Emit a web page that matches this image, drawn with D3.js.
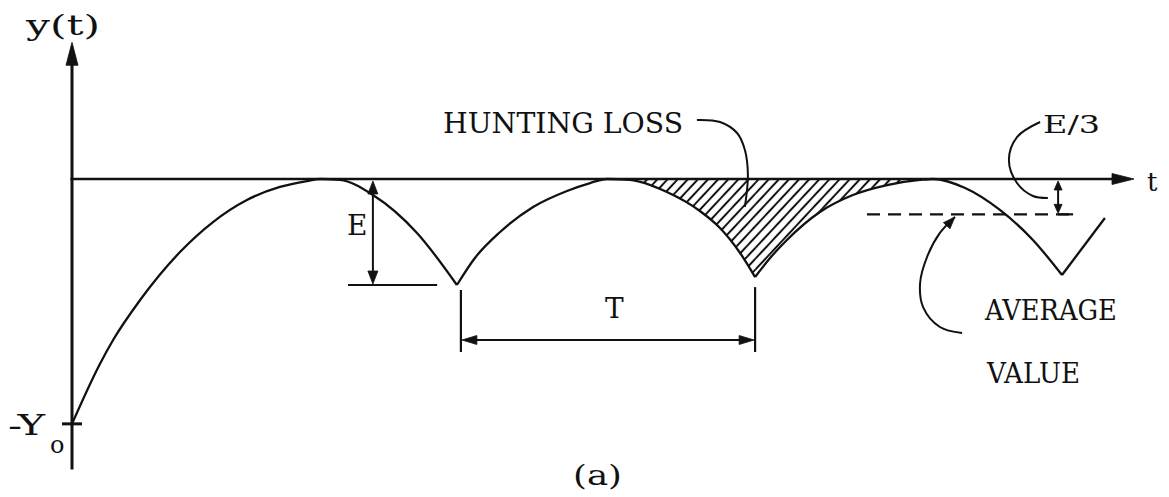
<!DOCTYPE html>
<html>
<head>
<meta charset="utf-8">
<script src="https://cdn.jsdelivr.net/npm/d3@7"></script>
<style>
  html, body { margin: 0; padding: 0; background: #fff; }
  svg { display: block; }
</style>
</head>
<body>
<svg id="chart" width="1169" height="497"></svg>
<script>
// Response y(t) in units where the ripple depth E = 1 and one period T is about 1.
// Each arch runs from cusp (or start) to cusp; values are [t, y].
const arch1 = [[0, -2.31], [0.093, -1.745], [0.137, -1.519], [0.227, -1.142], [0.36, -0.689],
               [0.47, -0.406], [0.583, -0.198], [0.693, -0.075], [0.783, -0.019], [0.827, 0],
               [0.893, -0.009], [1.003, -0.151], [1.15, -0.509], [1.283, -1.0]];
const arch2 = [[1.283, -1.0], [1.343, -0.745], [1.427, -0.5], [1.537, -0.264], [1.65, -0.113],
               [1.727, -0.038], [1.783, 0], [1.86, -0.009], [1.983, -0.123], [2.093, -0.302],
               [2.16, -0.462], [2.227, -0.698], [2.277, -0.925]];
const arch3 = [[2.277, -0.925], [2.327, -0.745], [2.383, -0.575], [2.493, -0.311], [2.603, -0.151],
               [2.717, -0.057], [2.827, -0.009], [2.87, 0], [2.977, -0.085], [3.093, -0.292],
               [3.203, -0.575], [3.3, -0.906]];
const tail = [[3.3, -0.906], [3.443, -0.368]];

const Y0 = 2.31;            // initial offset -Y0
const E = 1;                // ripple depth
const averageValue = -E / 3;
const hatchSpan = [1.86, 2.8];       // hunting-loss region between two peaks
const periodSpan = [1.283, 2.277];   // one period T, cusp to cusp
const averageSpan = [2.65, 3.337];   // extent of the dashed average line

// Leader lines for the callouts, [t, y]
const huntingLeader = [[2.083, 0.557], [2.16, 0.538], [2.217, 0.434], [2.243, 0.274], [2.253, 0.038], [2.243, -0.264]];
const thirdLeader = [[3.227, 0.538], [3.15, 0.396], [3.123, 0.179], [3.15, -0.038], [3.203, -0.160], [3.253, -0.179]];
const averageLeader = [[2.967, -1.453], [2.893, -1.396], [2.837, -1.208], [2.827, -0.981], [2.85, -0.736], [2.893, -0.509], [2.943, -0.358]];

const svg = d3.select("#chart");
const x = d3.scaleLinear().domain([0, 3.54]).range([72, 1134]);
const y = d3.scaleLinear().domain([-1, 0]).range([285, 179]);

const ink = "#111";
const font = "'DejaVu Serif', 'Liberation Serif', serif";

// hatch pattern for the hunting loss area
const defs = svg.append("defs");
const pat = defs.append("pattern")
  .attr("id", "hatch").attr("patternUnits", "userSpaceOnUse")
  .attr("width", 7.4).attr("height", 7.4)
  .attr("patternTransform", "rotate(43)");
pat.append("line").attr("x1", 3.7).attr("y1", 0).attr("x2", 3.7).attr("y2", 7.4)
  .attr("stroke", ink).attr("stroke-width", 2);
defs.append("clipPath").attr("id", "lossClip")
  .append("rect")
  .attr("x", x(hatchSpan[0])).attr("y", 0)
  .attr("width", x(hatchSpan[1]) - x(hatchSpan[0])).attr("height", 497);

function arrowHead(tip, from, len, halfW) {
  const dx = tip[0] - from[0], dy = tip[1] - from[1];
  const d = Math.hypot(dx, dy) || 1;
  const ux = dx / d, uy = dy / d;
  const bx = tip[0] - ux * len, by = tip[1] - uy * len;
  const nx = -uy * halfW, ny = ux * halfW;
  svg.append("path")
    .attr("d", `M${tip[0]},${tip[1]}L${bx + nx},${by + ny}L${bx - nx},${by - ny}Z`)
    .attr("fill", ink).attr("stroke", ink).attr("stroke-width", 0.8).attr("stroke-linejoin", "round");
}
function seg(x1, y1, x2, y2, w) {
  svg.append("line").attr("x1", x1).attr("y1", y1).attr("x2", x2).attr("y2", y2)
    .attr("stroke", ink).attr("stroke-width", w || 2).attr("stroke-linecap", "butt");
}

// hatched area between the axis and the curve
const area = d3.area().x(d => x(d[0])).y0(y(0)).y1(d => y(d[1])).curve(d3.curveMonotoneX);
const hatchG = svg.append("g").attr("clip-path", "url(#lossClip)");
[arch2, arch3].forEach(a => hatchG.append("path").attr("d", area(a)).attr("fill", "url(#hatch)"));

// axes
const tEnd = x.domain()[1];
seg(x(0), y(-2.74), x(0), y(1.29) + 18, 3);
arrowHead([x(0), y(1.29)], [x(0), y(0)], 23, 6);
seg(x(0) - 1.5, y(0), x(tEnd) - 16, y(0), 2.6);
arrowHead([x(tEnd), y(0)], [x(0), y(0)], 22, 5.5);
// -Y0 tick
seg(x(0) - 10, y(-Y0), x(0) + 10, y(-Y0), 3);

// the response curve
const line = d3.line().x(d => x(d[0])).y(d => y(d[1])).curve(d3.curveMonotoneX);
[arch1, arch2, arch3].forEach(a =>
  svg.append("path").attr("d", line(a)).attr("fill", "none")
    .attr("stroke", ink).attr("stroke-width", 2.3).attr("stroke-linejoin", "miter"));
svg.append("path").attr("d", d3.line().x(d => x(d[0])).y(d => y(d[1]))(tail))
  .attr("fill", "none").attr("stroke", ink).attr("stroke-width", 2.3);

// E dimension
const eT = 1.003;
seg(x(eT), y(0) + 10, x(eT), y(-E) - 10, 2);
arrowHead([x(eT), y(0) + 2], [x(eT), y(-E)], 13, 5);
arrowHead([x(eT), y(-E) - 1], [x(eT), y(0)], 13, 5);
seg(x(0.92), y(-E), x(1.217), y(-E), 2.2);

// T dimension
const tRow = y(-1.519);
seg(x(periodSpan[0]) + 4, y(-1.047), x(periodSpan[0]) + 4, y(-1.632), 2.2);
seg(x(periodSpan[1]), y(-1.02), x(periodSpan[1]), y(-1.632), 2.2);
seg(x(periodSpan[0]) + 14, tRow, x(periodSpan[1]) - 14, tRow, 2);
arrowHead([x(periodSpan[0]) + 5, tRow], [x(periodSpan[1]), tRow], 15, 4.5);
arrowHead([x(periodSpan[1]) - 1, tRow], [x(periodSpan[0]), tRow], 15, 4.5);

// average value (E/3 below the axis)
svg.append("line")
  .attr("x1", x(averageSpan[0])).attr("x2", x(averageSpan[1]))
  .attr("y1", y(averageValue)).attr("y2", y(averageValue))
  .attr("stroke", ink).attr("stroke-width", 2.2).attr("stroke-dasharray", "13,8");
const e3T = 3.287;
seg(x(e3T), y(0) + 8, x(e3T), y(averageValue) - 8, 2);
arrowHead([x(e3T), y(0) + 2], [x(e3T), y(averageValue)], 9, 4);
arrowHead([x(e3T), y(averageValue) - 1], [x(e3T), y(0)], 9, 4);
seg(x(e3T), y(averageValue), x(averageSpan[1]), y(averageValue), 2.2);

// callout leaders
const leader = d3.line().x(d => x(d[0])).y(d => y(d[1])).curve(d3.curveCatmullRom.alpha(0.5));
[huntingLeader, thirdLeader, averageLeader].forEach(p =>
  svg.append("path").attr("d", leader(p)).attr("fill", "none")
    .attr("stroke", ink).attr("stroke-width", 2));
const aEnd = averageLeader[averageLeader.length - 1], aPrev = averageLeader[averageLeader.length - 2];
arrowHead([x(aEnd[0]), y(aEnd[1])], [x(aPrev[0]), y(aPrev[1])], 12, 4.5);

// labels: [text, t, y, font size, forced width]
const labels = [
  ["y(t)", -0.153, 1.358, 28, 74],
  ["-Y", -0.213, -2.415, 28, 37],
  ["o", -0.073, -2.585, 24, null],
  ["E", 0.917, -0.528, 28, null],
  ["HUNTING LOSS", 1.237, 0.434, 28, 240],
  ["T", 1.777, -1.311, 28, null],
  ["E/3", 3.237, 0.434, 25, 57],
  ["t", 3.583, -0.113, 26, null],
  ["AVERAGE", 3.043, -1.33, 28, 132],
  ["VALUE", 3.05, -1.925, 28, 93],
  ["(a)", 1.67, -2.887, 28, 49]
];
labels.forEach(([txt, t, v, size, w]) => {
  const el = svg.append("text")
    .attr("x", x(t)).attr("y", y(v))
    .attr("font-family", font).attr("font-size", size)
    .attr("fill", ink).text(txt);
  if (w) el.attr("textLength", w).attr("lengthAdjust", "spacingAndGlyphs");
});
</script>
</body>
</html>
